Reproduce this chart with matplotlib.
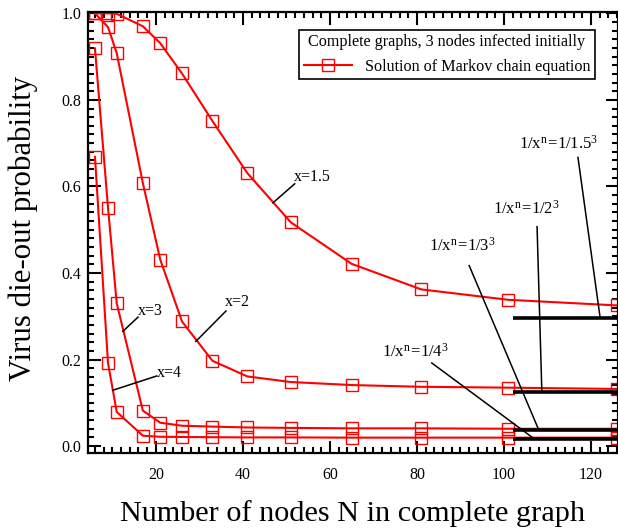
import numpy as np
import matplotlib
matplotlib.use("Agg")
import matplotlib.pyplot as plt
from matplotlib.ticker import MultipleLocator

plt.rcParams["font.family"] = ["Liberation Serif", "DejaVu Serif"]
plt.rcParams["mathtext.fontset"] = "custom"
plt.rcParams["mathtext.rm"] = "Liberation Serif"

# number of nodes in the complete graph
nodes = [6, 9, 11, 17, 21, 26, 33, 41, 51, 65, 81, 101, 126]

# die-out probability for each infection ratio x
p_x15 = [1.0, 1.0, 0.999, 0.970, 0.931, 0.861, 0.751, 0.631, 0.517, 0.421, 0.362, 0.338, 0.325]
p_x2 = [1.0, 0.968, 0.908, 0.608, 0.431, 0.288, 0.197, 0.161, 0.148, 0.141, 0.137, 0.135, 0.132]
p_x3 = [0.919, 0.551, 0.330, 0.082, 0.054, 0.047, 0.045, 0.043, 0.042, 0.041, 0.041, 0.040, 0.040]
p_x4 = [0.668, 0.192, 0.079, 0.024, 0.0215, 0.021, 0.0205, 0.020, 0.020, 0.0195, 0.0195, 0.0195, 0.0195]

# asymptotic limits 1/x^n with n = 3
x_vals = [1.5, 2, 3, 4]
limits = [1 / x**3 for x in x_vals]
limit_labels = [r"$\mathrm{1/x^{n}\!=\!1/1.5^{3}}$", r"$\mathrm{1/x^{n}\!=\!1/2^{3}}$",
                r"$\mathrm{1/x^{n}\!=\!1/3^{3}}$", r"$\mathrm{1/x^{n}\!=\!1/4^{3}}$"]

fig = plt.figure(figsize=(6.18, 5.30), dpi=100)
ax = fig.add_axes([88 / 618, 77 / 530, 530 / 618, 441 / 530])

red = "#ff0000"
style = dict(color=red, lw=1.5, marker="s", ms=8.5, mfc="none", mec=red, mew=1.0)
for i, p in enumerate([p_x15, p_x2, p_x3, p_x4]):
    ax.plot(nodes, p, label="Solution of Markov chain equation" if i == 0 else None,
            **style)

# thick limit lines on the right
for lim in limits:
    ax.plot([102, 126.5], [lim, lim], color="black", lw=2.6, solid_capstyle="butt")

# curve labels with leaders
curve_notes = [("x=1.5", (46.9, 0.562), (51.9, 0.606), (51.8, 0.622)),
               ("x=2", (29.2, 0.242), (36.1, 0.312), (35.9, 0.333)),
               ("x=3", (12.4, 0.265), (15.9, 0.298), (15.9, 0.312)),
               ("x=4", (10.1, 0.129), (20.2, 0.162), (20.2, 0.169))]
for txt, p0, p1, pt in curve_notes:
    ax.plot([p0[0], p1[0]], [p0[1], p1[1]], color="black", lw=1.1)
    ax.text(pt[0], pt[1], txt, fontsize=11.5, ha="left", va="center")

# limit labels with leaders
limit_notes = [((117.0, 0.667), (122.1, limits[0]), (103.4, 0.698)),
               ((107.6, 0.507), (108.7, limits[1]), (97.5, 0.548)),
               ((92.0, 0.417), (108.0, limits[2]), (82.8, 0.462)),
               ((83.4, 0.192), (107.1, limits[3]), (72.0, 0.218))]
for lbl, (p0, p1, pt) in zip(limit_labels, limit_notes):
    ax.plot([p0[0], p1[0]], [p0[1], p1[1]], color="black", lw=1.1)
    ax.text(pt[0], pt[1], lbl, fontsize=12, ha="left", va="center")

ax.set_xlim(4.4, 126.2)
ax.set_ylim(-0.016, 1.003)
ax.xaxis.set_major_locator(MultipleLocator(20))
ax.xaxis.set_minor_locator(MultipleLocator(2))
ax.yaxis.set_major_locator(MultipleLocator(0.2))
ax.yaxis.set_minor_locator(MultipleLocator(0.02))
ax.yaxis.set_major_formatter(matplotlib.ticker.FormatStrFormatter("%.1f"))
ax.tick_params(which="both", direction="in", top=True, right=True, width=1.5,
               labelsize=11.5)
ax.tick_params(which="major", length=9)
ax.tick_params(which="minor", length=4.5)
ax.tick_params(axis="x", pad=10)
ax.tick_params(axis="y", pad=5)
for s in ax.spines.values():
    s.set_linewidth(1.6)

ax.set_xlabel("Number of nodes N in complete graph", fontsize=21.8)
ax.set_ylabel("Virus die-out probability", fontsize=22.2)
ax.xaxis.set_label_coords(0.5, -0.107)
ax.yaxis.set_label_coords(-0.094, 0.51)

leg = ax.legend(loc="upper right", bbox_to_anchor=(0.957, 0.96),
                title="Complete graphs, 3 nodes infected initially",
                fontsize=11.6, title_fontsize=11.6, fancybox=False,
                edgecolor="black", framealpha=1, borderpad=0.3,
                handlelength=3, borderaxespad=0)
leg.get_frame().set_linewidth(1.2)

fig.savefig("out.png", dpi=100)
